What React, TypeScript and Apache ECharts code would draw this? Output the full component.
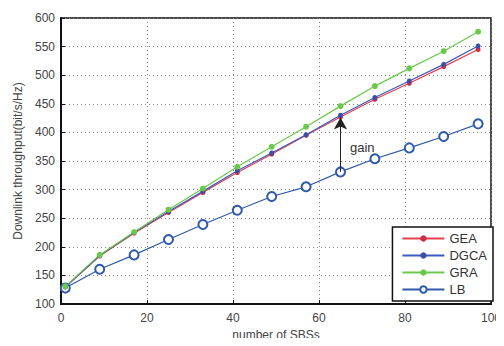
import React, { useEffect, useRef } from "react";
import * as echarts from "echarts";

const xValues = [1, 9, 17, 25, 33, 41, 49, 57, 65, 73, 81, 89, 97];
const gea = [130, 184, 224, 260, 295, 330, 362, 395, 427, 458, 486, 515, 545];
const dgca = [130, 185, 225, 262, 297, 333, 364, 396, 430, 461, 490, 519, 551];
const gra = [131, 186, 226, 265, 302, 340, 375, 410, 446, 481, 512, 542, 576];
const lb = [128, 161, 186, 213, 239, 264, 288, 305, 331, 354, 373, 393, 415];
const seriesNames = ["GEA", "DGCA", "GRA", "LB"];
const gainFrom = [65, 331];
const gainTo = [65, 426];

const pair = (ys: number[]) => xValues.map((x, i) => [x, ys[i]]);

export default function App() {
  const ref = useRef<HTMLDivElement>(null);
  useEffect(() => {
    const chart = echarts.init(ref.current!, null, { renderer: "svg" });
    const font = "Liberation Sans";
    const axisLabel = { color: "#444", fontSize: 12, fontFamily: font };
    const splitLine = { show: true, lineStyle: { type: [1, 3], color: "#888", width: 1 } };
    chart.setOption({
      animation: false,
      backgroundColor: "#fff",
      grid: {
        left: 61, right: 5, top: 18, bottom: 33,
        show: true, borderColor: "#111", borderWidth: 1.5, backgroundColor: "transparent",
      },
      xAxis: {
        type: "value", min: 0, max: 100, interval: 20,
        axisLine: { show: true, lineStyle: { color: "#111", width: 2 } },
        axisTick: { inside: true, length: 4, lineStyle: { color: "#111" } },
        axisLabel: { ...axisLabel, margin: 8 },
        splitLine,
        name: "number of SBSs", nameLocation: "middle", nameGap: 24,
        nameTextStyle: { color: "#444", fontSize: 12, fontFamily: font },
      },
      yAxis: {
        type: "value", min: 100, max: 600, interval: 50,
        axisLine: { show: true, lineStyle: { color: "#111", width: 2 } },
        axisTick: { inside: true, length: 4, lineStyle: { color: "#111" } },
        axisLabel: { ...axisLabel, margin: 6 },
        splitLine,
        name: "Downlink throughput(bit/s/Hz)", nameLocation: "middle", nameGap: 35,
        nameTextStyle: { color: "#444", fontSize: 12, fontFamily: font },
      },
      legend: {
        data: seriesNames,
        orient: "vertical",
        right: 11, bottom: 45,
        backgroundColor: "#fff",
        borderColor: "#111", borderWidth: 1.5, borderRadius: 0,
        padding: [5, 6, 5, 9],
        itemGap: 4, itemWidth: 42, itemHeight: 8,
        textStyle: { color: "#333", fontSize: 13, fontFamily: font },
      },
      series: [
        {
          name: "LB", type: "line", data: pair(lb),
          symbol: "emptyCircle", symbolSize: 9,
          lineStyle: { color: "#2f5aa8", width: 1.2 },
          itemStyle: { color: "#2f5aa8", borderWidth: 1.3 },
          markLine: {
            silent: true, symbol: ["none", "arrow"], symbolSize: [10, 12],
            lineStyle: { color: "#222", type: "solid", width: 1 },
            label: { show: false },
            data: [[{ coord: gainFrom }, { coord: gainTo }]],
          },
        },
        {
          name: "GEA", type: "line", data: pair(gea),
          symbol: "circle", symbolSize: 5,
          lineStyle: { color: "#e8404f", width: 1.2 },
          itemStyle: { color: "#c8304a" },
        },
        {
          name: "DGCA", type: "line", data: pair(dgca),
          symbol: "circle", symbolSize: 5,
          lineStyle: { color: "#3a5cc0", width: 1.2 },
          itemStyle: { color: "#3a4ea8" },
        },
        {
          name: "GRA", type: "line", data: pair(gra),
          symbol: "circle", symbolSize: 6,
          lineStyle: { color: "#6cc84a", width: 1.2 },
          itemStyle: { color: "#6cc84a" },
        },
      ],
      graphic: [
        {
          type: "text", left: 350, top: 141,
          style: { text: "gain", fill: "#333", fontSize: 13, fontFamily: font },
        },
      ],
    });
    return () => chart.dispose();
  }, []);
  return <div ref={ref} style={{ width: 504, height: 346, margin: -8 }} />;
}
